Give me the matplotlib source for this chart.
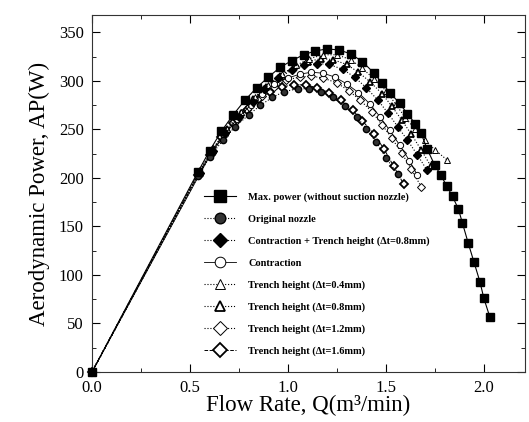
import matplotlib
matplotlib.use("Agg")
import matplotlib.pyplot as plt
from matplotlib.ticker import MultipleLocator, FormatStrFormatter

plt.rcParams['font.family'] = ['Liberation Serif', 'DejaVu Serif']

labels = [
    "Max. power (without suction nozzle)",
    "Original nozzle",
    "Contraction + Trench height (\u0394t=0.8mm)",
    "Contraction",
    "Trench height (\u0394t=0.4mm)",
    "Trench height (\u0394t=0.8mm)",
    "Trench height (\u0394t=1.2mm)",
    "Trench height (\u0394t=1.6mm)",
]

q_max = [0, 0.54, 0.60, 0.66, 0.72, 0.78, 0.84, 0.90, 0.96, 1.02, 1.08, 1.14, 1.20, 1.26,
         1.32, 1.38, 1.44, 1.48, 1.52, 1.57, 1.61, 1.65, 1.68, 1.71, 1.75, 1.78, 1.81,
         1.84, 1.87, 1.89, 1.92, 1.95, 1.98, 2.00, 2.03]
p_max = [0, 206, 228, 248, 265, 280, 293, 304, 314, 321, 327, 331, 333, 332,
         328, 320, 308, 298, 288, 277, 266, 256, 246, 230, 213, 203, 192,
         181, 168, 154, 133, 113, 93, 76, 57]

q_orig = [0, 0.54, 0.60, 0.67, 0.73, 0.80, 0.86, 0.92, 0.98, 1.05, 1.11, 1.17, 1.23, 1.29,
          1.35, 1.40, 1.45, 1.50, 1.56]
p_orig = [0, 202, 222, 239, 253, 265, 275, 283, 289, 292, 292, 289, 283, 274,
          263, 251, 237, 221, 204]

q_ct08 = [0, 0.55, 0.62, 0.68, 0.75, 0.82, 0.88, 0.95, 1.02, 1.08, 1.15, 1.21, 1.28,
          1.34, 1.40, 1.46, 1.51, 1.56, 1.61, 1.66, 1.71]
p_ct08 = [0, 205, 228, 246, 263, 278, 292, 303, 311, 316, 318, 317, 312,
          304, 293, 280, 267, 253, 239, 224, 208]

q_con = [0, 0.55, 0.61, 0.68, 0.74, 0.81, 0.87, 0.93, 1.00, 1.06, 1.12, 1.18, 1.24,
         1.30, 1.36, 1.42, 1.47, 1.52, 1.57, 1.62, 1.66]
p_con = [0, 204, 226, 245, 261, 275, 287, 297, 303, 307, 309, 308, 304,
         297, 288, 276, 263, 249, 234, 218, 203]

q_t04 = [0, 0.55, 0.62, 0.69, 0.76, 0.83, 0.90, 0.97, 1.04, 1.11, 1.18, 1.25, 1.32,
         1.38, 1.44, 1.50, 1.55, 1.60, 1.65, 1.70, 1.75, 1.81]
p_t04 = [0, 208, 231, 251, 268, 283, 296, 307, 316, 323, 327, 327, 322,
         313, 302, 290, 276, 262, 250, 239, 229, 219]

q_t08 = [0, 0.55, 0.62, 0.69, 0.76, 0.82, 0.89, 0.96, 1.03, 1.10, 1.17, 1.23, 1.30,
         1.36, 1.42, 1.48, 1.53, 1.58, 1.63, 1.68, 1.73]
p_t08 = [0, 207, 230, 250, 267, 281, 294, 305, 314, 320, 323, 322, 317,
         309, 299, 287, 274, 260, 245, 229, 212]

q_t12 = [0, 0.54, 0.61, 0.67, 0.74, 0.80, 0.87, 0.93, 0.99, 1.06, 1.12, 1.18, 1.25,
         1.31, 1.37, 1.43, 1.48, 1.53, 1.58, 1.63, 1.68]
p_t12 = [0, 204, 226, 245, 260, 273, 285, 294, 301, 304, 305, 303, 298,
         290, 280, 268, 255, 241, 226, 209, 191]

q_t16 = [0, 0.54, 0.60, 0.66, 0.72, 0.79, 0.85, 0.91, 0.97, 1.03, 1.09, 1.15, 1.21,
         1.27, 1.33, 1.38, 1.44, 1.49, 1.54, 1.59]
p_t16 = [0, 203, 224, 242, 257, 270, 281, 289, 294, 296, 296, 293, 288,
         280, 270, 259, 245, 230, 212, 194]

series = [
    (q_t16, p_t16, dict(marker='D', mfc='white', mec='black', ms=4, ls='--', lw=0.7, mew=1.3)),
    (q_t12, p_t12, dict(marker='D', mfc='white', mec='black', ms=4, ls=':', lw=0.8, mew=0.7)),
    (q_t08, p_t08, dict(marker='^', mfc='white', mec='black', ms=4.5, ls=':', lw=0.8, mew=1.3)),
    (q_t04, p_t04, dict(marker='^', mfc='white', mec='black', ms=4.5, ls=':', lw=0.8, mew=0.7)),
    (q_con, p_con, dict(marker='o', mfc='white', mec='black', ms=4.5, ls='-', lw=0.6, mew=0.7)),
    (q_ct08, p_ct08, dict(marker='D', mfc='black', mec='black', ms=4, ls=':', lw=0.8)),
    (q_orig, p_orig, dict(marker='o', mfc='#333333', mec='black', ms=4.5, ls=':', lw=0.8)),
    (q_max, p_max, dict(marker='s', mfc='black', mec='black', ms=5.5, ls='-', lw=0.8)),
]
series_labels = labels[::-1]

fig = plt.figure(figsize=(5.29, 4.22), dpi=100)
ax = fig.add_axes([92/529, 50/422, 433/529, 357/422])

handles = {}
for (q, p, style), lab in zip(series, series_labels):
    line, = ax.plot(q, p, color='black', label=lab, clip_on=False, zorder=3, **style)
    handles[lab] = line

ax.set_xlim(0, 2.21)
ax.set_ylim(0, 368)
ax.xaxis.set_major_locator(MultipleLocator(0.5))
ax.xaxis.set_minor_locator(MultipleLocator(0.25))
ax.yaxis.set_major_locator(MultipleLocator(50))
ax.yaxis.set_minor_locator(MultipleLocator(25))
ax.xaxis.set_major_formatter(FormatStrFormatter('%.1f'))
ax.tick_params(which='both', direction='in', top=True, right=True, labelsize=12)
ax.tick_params(axis='x', pad=6)
ax.tick_params(axis='y', pad=6)
ax.tick_params(which='major', length=6)
ax.tick_params(which='minor', length=3)
for s in ax.spines.values():
    s.set_linewidth(0.8)
    s.set_color('#333333')

ax.set_xlabel("Flow Rate, Q(m\u00b3/min)", fontsize=16.5, labelpad=-1)
ax.set_ylabel("Aerodynamic Power, AP(W)", fontsize=16.5, labelpad=6)

leg = ax.legend([handles[l] for l in labels], labels,
                loc='upper left', bbox_to_anchor=(0.25, 0.515), frameon=False,
                fontsize=7.5, handlelength=3.0, labelspacing=1.2, handletextpad=1.2,
                borderaxespad=0, markerscale=1.7)
for t in leg.get_texts():
    t.set_fontweight('bold')

fig.savefig("out.png", dpi=100)
